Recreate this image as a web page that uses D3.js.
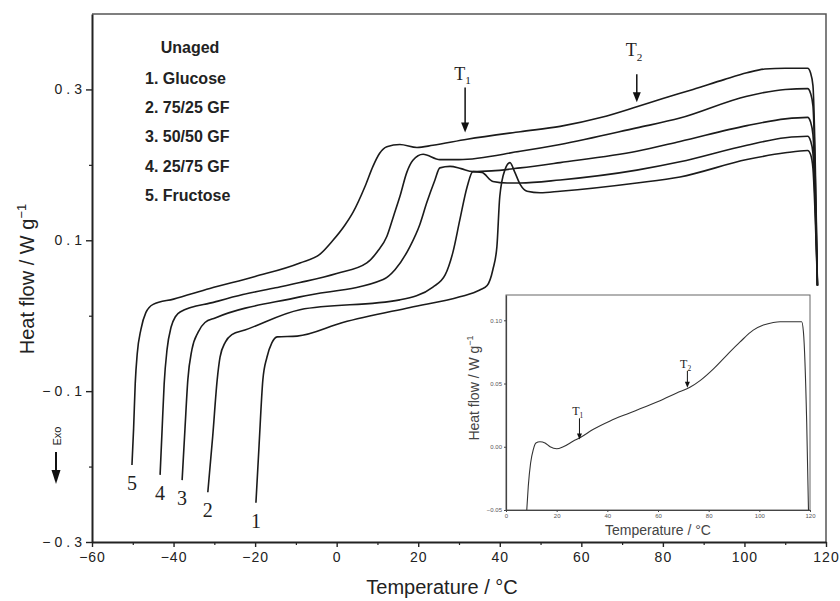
<!DOCTYPE html>
<html>
<head>
<meta charset="utf-8">
<script src="https://cdn.jsdelivr.net/npm/d3@7"></script>
<style>
  html, body { margin: 0; padding: 0; background: #fff; }
  svg { display: block; }
</style>
</head>
<body>
<svg id="chart" width="840" height="601"></svg>
<script>
// DSC heating scans of unaged glucose/fructose glasses.
// Each point: [temperature °C, heat flow W/g]; scans are offset vertically for clarity.
const glucose = [
  [-19.8,-0.248],[-19.05,-0.174],[-18.1,-0.085],[-17.1,-0.055],[-15.9,-0.036],[-14.6,-0.028],
  [-9.7,-0.027],[1.5,-0.009],[18.0,0.011],[30.2,0.025],[35.1,0.034],[36.9,0.040],[38.3,0.061],
  [39.3,0.092],[40.0,0.158],[41.3,0.194],[42.5,0.203],[43.7,0.190],[45.0,0.174],[46.7,0.165],
  [49.9,0.163],[54.8,0.165],[73.6,0.176],[84.2,0.184],[100.6,0.207],[110,0.216],[115.5,0.219],
  [116.2,0.214],[116.8,0.195],[117.9,0.040]
];
const gf7525 = [
  [-31.6,-0.234],[-30.4,-0.160],[-29.3,-0.085],[-28.6,-0.055],[-27.3,-0.035],[-25.7,-0.025],
  [-22.5,-0.019],[-9.0,0.008],[15.5,0.021],[23.6,0.038],[26.6,0.054],[28.5,0.084],[30.2,0.127],
  [32.0,0.171],[33.4,0.191],[35.6,0.190],[38.3,0.178],[41.8,0.176],[45.0,0.176],[54.8,0.180],
  [73.6,0.193],[84.2,0.204],[100.6,0.226],[110,0.236],[115.5,0.238],[116.2,0.232],[116.8,0.215],
  [117.9,0.040]
];
const gf5050 = [
  [-37.9,-0.218],[-37.2,-0.150],[-36.5,-0.085],[-35.5,-0.045],[-34.0,-0.022],[-32.3,-0.009],
  [-29.8,-0.003],[-9.0,0.025],[11.4,0.048],[14.3,0.061],[18.0,0.092],[20.4,0.121],[22.1,0.150],
  [24.1,0.180],[25.3,0.196],[27.8,0.198],[30.5,0.195],[33.4,0.191],[38,0.192],[45.0,0.196],
  [54.8,0.203],[73.6,0.218],[84.2,0.231],[100.6,0.252],[110,0.261],[115.5,0.263],[116.2,0.257],
  [116.8,0.240],[117.9,0.040]
];
const gf2575 = [
  [-43.3,-0.211],[-42.8,-0.150],[-42.3,-0.090],[-41.6,-0.045],[-40.6,-0.015],[-39.5,-0.001],
  [-38.4,0.005],[-30,0.018],[-23.0,0.028],[-15,0.037],[-9.0,0.044],[0,0.056],[7.4,0.070],
  [10,0.085],[12.3,0.105],[14,0.133],[15.5,0.158],[17.2,0.190],[18.7,0.206],[21.2,0.214],
  [25.3,0.207],[30,0.207],[45,0.218],[54.8,0.227],[73.6,0.249],[84.2,0.262],[100.6,0.291],
  [110,0.300],[115.5,0.301],[116.2,0.295],[116.8,0.278],[117.9,0.040]
];
const fructose = [
  [-50.2,-0.198],[-49.8,-0.150],[-49.4,-0.090],[-48.9,-0.050],[-48.0,-0.018],[-46.8,0.004],
  [-45.0,0.015],[-40,0.022],[-31.1,0.036],[-20,0.052],[-9.0,0.070],[-4,0.082],[-0.9,0.100],
  [2,0.120],[4.0,0.137],[7,0.172],[8.9,0.198],[10.5,0.215],[12.3,0.224],[15.5,0.227],
  [19.7,0.223],[23.6,0.226],[32,0.234],[45,0.244],[54.8,0.251],[65,0.263],[73.6,0.277],
  [80,0.288],[87.4,0.300],[95,0.313],[100.6,0.322],[105,0.327],[110,0.328],[115.5,0.328],
  [116.2,0.322],[116.8,0.305],[117.9,0.040]
];

const legendTitle = "Unaged";
const seriesNames = ["1. Glucose", "2. 75/25 GF", "3. 50/50 GF", "4. 25/75 GF", "5. Fructose"];
const curveNumbers = ["1", "2", "3", "4", "5"];

const xTicks = [-60, -40, -20, 0, 20, 40, 60, 80, 100, 120];
const xMinorTicks = [-50, -30, -10, 10, 30, 50, 70, 90, 110];
const yTicks = [-0.3, -0.1, 0.1, 0.3];
const yMinorTicks = [-0.2, 0, 0.2];

// T1 / T2 markers on the fructose scan: [temperature, arrow top, arrow tip, label baseline]
const mainMarkers = [
  ["1", 31.5, 0.3025, 0.243, 0.313],
  ["2", 73.6, 0.320, 0.283, 0.3437]
];

// Inset: single fructose scan on its own scale
const insetScan = [
  [8.2,-0.050],[8.8,-0.031],[9.7,-0.013],[10.8,-0.002],[11.8,0.003],[13.4,0.004],[15.4,0.003],
  [17.4,0.000],[20.0,-0.0016],[22.6,0.000],[26.6,0.0045],[29.2,0.0071],[34.5,0.0138],
  [41.1,0.0204],[47.6,0.0258],[54.2,0.031],[60.8,0.0364],[67.4,0.0425],[72.6,0.047],
  [76.6,0.0523],[81.9,0.0616],[87.1,0.0723],[92.4,0.0829],[97.6,0.0922],[101.6,0.0962],
  [105.5,0.0983],[108.2,0.0989],[113.4,0.0989],[116.7,0.0989],[117.4,0.091],[118.7,0.019],
  [119.4,-0.050]
];
const insetXTicks = [0, 20, 40, 60, 80, 100, 120];
const insetYTicks = [-0.05, 0.00, 0.05, 0.10];
const insetMarkers = [
  ["1", 29.0, 0.0225, 0.0058, 0.0255],
  ["2", 71.6, 0.060, 0.0466, 0.0625]
];

const W = 840, H = 601;
const svg = d3.select("#chart");
const SANS = "'Liberation Sans', Arial, sans-serif";
const SERIF = "'Liberation Serif', 'Times New Roman', serif";
const minus = v => (v < 0 ? "\u2212" : "");

const x = d3.scaleLinear().domain([-60, 120]).range([92, 826]);
const y = d3.scaleLinear().domain([-0.3, 0.4]).range([542, 14]);

// frame (top and right)
svg.append("path")
  .attr("d", `M${x(-60)},${y(0.4)}H${x(120)}V${y(-0.3)}`)
  .attr("fill", "none").attr("stroke", "#555").attr("stroke-width", 1.5);

// x axis
const gx = svg.append("g").attr("transform", `translate(0,${y(-0.3)})`)
  .call(d3.axisBottom(x).tickValues(xTicks).tickSize(5).tickSizeOuter(0).tickPadding(5)
    .tickFormat(d => minus(d) + Math.abs(d)));
gx.select(".domain").attr("stroke", "#222").attr("stroke-width", 2);
gx.selectAll(".tick line").attr("stroke", "#222").attr("stroke-width", 1.4);
gx.selectAll(".tick text").attr("font-family", SANS).attr("font-size", 14)
  .attr("letter-spacing", 1).attr("fill", "#222");
svg.append("g").attr("transform", `translate(0,${y(-0.3)})`)
  .call(d3.axisBottom(x).tickValues(xMinorTicks).tickSize(3).tickSizeOuter(0).tickFormat(""))
  .call(g => g.select(".domain").remove())
  .selectAll(".tick line").attr("stroke", "#222").attr("stroke-width", 1.2);

// y axis
const gy = svg.append("g").attr("transform", `translate(${x(-60)},0)`)
  .call(d3.axisLeft(y).tickValues(yTicks).tickSize(6).tickSizeOuter(0).tickPadding(4)
    .tickFormat(d => minus(d) + Math.abs(d).toFixed(1)));
gy.select(".domain").attr("stroke", "#222").attr("stroke-width", 2);
gy.selectAll(".tick line").attr("stroke", "#222").attr("stroke-width", 1.4);
gy.selectAll(".tick text").attr("font-family", SANS).attr("font-size", 14)
  .attr("letter-spacing", 4).attr("x", -6).attr("fill", "#222");
svg.append("g").attr("transform", `translate(${x(-60)},0)`)
  .call(d3.axisLeft(y).tickValues(yMinorTicks).tickSize(3).tickSizeOuter(0).tickFormat(""))
  .call(g => g.select(".domain").remove())
  .selectAll(".tick line").attr("stroke", "#222").attr("stroke-width", 1.2);

// axis titles
svg.append("text")
  .attr("x", 442).attr("y", 594).attr("text-anchor", "middle")
  .attr("font-family", SANS).attr("font-size", 20).attr("fill", "#222")
  .text("Temperature / \u00B0C");
const yt = svg.append("text")
  .attr("transform", "translate(34,279) rotate(-90)").attr("text-anchor", "middle")
  .attr("font-family", SANS).attr("font-size", 20).attr("fill", "#222");
yt.append("tspan").text("Heat flow / W g");
yt.append("tspan").attr("dy", -8).attr("font-size", 13).text("\u22121");

// Exo direction marker
svg.append("text")
  .attr("transform", "translate(61,436) rotate(-90)").attr("text-anchor", "middle")
  .attr("font-family", SANS).attr("font-size", 11).attr("fill", "#222").text("Exo");
svg.append("line").attr("x1", 56).attr("x2", 56).attr("y1", 452).attr("y2", 472)
  .attr("stroke", "#111").attr("stroke-width", 2);
svg.append("path").attr("d", "M51.5,470L60.5,470L56,484Z").attr("fill", "#111");

// scans
const scans = [glucose, gf7525, gf5050, gf2575, fructose];
const line = d3.line().x(d => x(d[0])).y(d => y(d[1])).curve(d3.curveMonotoneX);
svg.append("g").selectAll("path").data(scans).join("path")
  .attr("d", line).attr("fill", "none").attr("stroke", "#1b1b1b")
  .attr("stroke-width", 1.6).attr("stroke-linejoin", "round");

// curve numbers below each scan start
svg.append("g").selectAll("text").data(scans).join("text")
  .attr("x", d => x(d[0][0]))
  .attr("y", d => y(d[0][1]) + 25)
  .attr("text-anchor", "middle")
  .attr("font-family", SERIF).attr("font-size", 20).attr("fill", "#222")
  .text((d, i) => curveNumbers[i]);

// legend
const lg = svg.append("g").attr("font-family", SANS).attr("font-weight", "bold")
  .attr("font-size", 16).attr("fill", "#222");
lg.append("text").attr("x", 190).attr("y", 53).attr("text-anchor", "middle").text(legendTitle);
lg.selectAll("text.item").data(seriesNames).join("text").attr("class", "item")
  .attr("x", 145).attr("y", (d, i) => 84 + i * 29.2).text(d => d);

// T markers
function drawMarkers(g, markers, sx, sy, opt) {
  markers.forEach(([sub, t, vTop, vTip, vLab]) => {
    const px = sx(t);
    g.append("line").attr("x1", px).attr("x2", px)
      .attr("y1", sy(vTop)).attr("y2", sy(vTip) - opt.head + 1)
      .attr("stroke", "#111").attr("stroke-width", opt.sw);
    g.append("path")
      .attr("d", `M${px - opt.hw},${sy(vTip) - opt.head}L${px + opt.hw},${sy(vTip) - opt.head}L${px},${sy(vTip)}Z`)
      .attr("fill", "#111");
    const tx = g.append("text").attr("x", px - opt.fs * 0.15).attr("y", sy(vLab))
      .attr("text-anchor", "middle").attr("font-family", SERIF)
      .attr("font-size", opt.fs).attr("fill", "#222");
    tx.append("tspan").text("T");
    tx.append("tspan").attr("dy", opt.fs * 0.25).attr("font-size", opt.fs * 0.62).text(sub);
  });
}
drawMarkers(svg.append("g"), mainMarkers, x, y, { head: 10, hw: 4, sw: 1.5, fs: 18 });

// ---- inset ----
const ix = d3.scaleLinear().domain([0, 120]).range([506, 810]);
const iy = d3.scaleLinear().domain([-0.05, 0.12]).range([510, 295]);
const inset = svg.append("g");
inset.append("rect").attr("x", 506).attr("y", 295).attr("width", 304).attr("height", 215)
  .attr("fill", "#fff").attr("stroke", "#666").attr("stroke-width", 1);

const igx = inset.append("g").attr("transform", "translate(0,510)")
  .call(d3.axisBottom(ix).tickValues(insetXTicks).tickSize(2).tickSizeOuter(0).tickPadding(2)
    .tickFormat(d => d));
igx.select(".domain").attr("stroke", "#444").attr("stroke-width", 1.2);
igx.selectAll(".tick line").attr("stroke", "#444");
igx.selectAll(".tick text").attr("font-family", SANS).attr("font-size", 6).attr("fill", "#555");

const igy = inset.append("g").attr("transform", "translate(506,0)")
  .call(d3.axisLeft(iy).tickValues(insetYTicks).tickSize(2).tickSizeOuter(0).tickPadding(2)
    .tickFormat(d => minus(d) + Math.abs(d).toFixed(2)));
igy.select(".domain").attr("stroke", "#444").attr("stroke-width", 1.2);
igy.selectAll(".tick line").attr("stroke", "#444");
igy.selectAll(".tick text").attr("font-family", SANS).attr("font-size", 6).attr("fill", "#555");

inset.append("text").attr("x", 658).attr("y", 535).attr("text-anchor", "middle")
  .attr("font-family", SANS).attr("font-size", 14).attr("fill", "#444")
  .text("Temperature / \u00B0C");
const iyt = inset.append("text")
  .attr("transform", "translate(479,388) rotate(-90)").attr("text-anchor", "middle")
  .attr("font-family", SANS).attr("font-size", 14).attr("fill", "#444");
iyt.append("tspan").text("Heat flow / W g");
iyt.append("tspan").attr("dy", -6).attr("font-size", 9).text("\u22121");

const iline = d3.line().x(d => ix(d[0])).y(d => iy(d[1])).curve(d3.curveMonotoneX);
inset.append("path").datum(insetScan).attr("d", iline)
  .attr("fill", "none").attr("stroke", "#333").attr("stroke-width", 1.1);

drawMarkers(inset.append("g"), insetMarkers, ix, iy, { head: 6, hw: 2.5, sw: 1, fs: 12 });
</script>
</body>
</html>
